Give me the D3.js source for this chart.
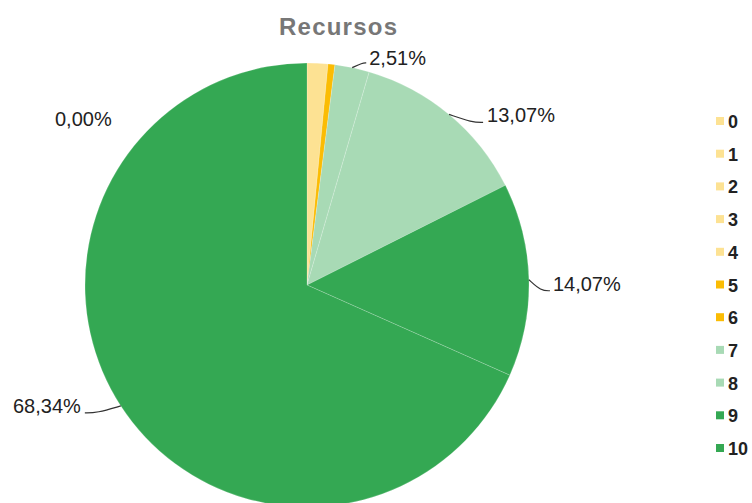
<!DOCTYPE html>
<html>
<head>
<meta charset="utf-8">
<script src="https://cdn.jsdelivr.net/npm/d3@7"></script>
<style>
  html, body { margin: 0; padding: 0; background: #fff; }
  svg { display: block; }
</style>
</head>
<body>
<svg id="chart" width="752" height="503"></svg>
<script>
// ---- data ----
const title = "Recursos";
const categories = ["0", "1", "2", "3", "4", "5", "6", "7", "8", "9", "10"];
const values = [0, 0, 0, 0, 1.51, 0.50, 0, 2.51, 13.07, 14.07, 68.34];
const colors = ["#fde293", "#fde293", "#fde293", "#fde293", "#fde293",
                "#fbbc04", "#fbbc04", "#a8dab5", "#a8dab5", "#34a853", "#34a853"];

// ---- layout ----
const W = 752, H = 503;
const cx = 307, cy = 285, R = 222;
const svg = d3.select("#chart");

const locale = d3.formatLocale({ decimal: ",", thousands: ".", grouping: [3], currency: ["", ""] });
const fmt = v => locale.format(".2f")(v) + "%";

const data = categories.map((c, i) => ({ cat: c, value: values[i], color: colors[i], idx: i }));

const pie = d3.pie().sort(null).value(d => d.value).startAngle(0).endAngle(2 * Math.PI);
const arcs = pie(data);
const arc = d3.arc().innerRadius(0).outerRadius(R);
const edge = d3.arc().innerRadius(R).outerRadius(R);

// title
svg.append("text")
  .attr("x", 338).attr("y", 35)
  .attr("text-anchor", "middle")
  .attr("font-family", "Liberation Sans, Arial, sans-serif")
  .attr("font-weight", "bold")
  .attr("font-size", 24)
  .attr("fill", "#777")
  .attr("textLength", 118)
  .attr("lengthAdjust", "spacing")
  .text(title);

const g = svg.append("g").attr("transform", `translate(${cx},${cy})`);

g.selectAll("path.slice")
  .data(arcs.filter(a => a.data.value > 0))
  .join("path")
  .attr("class", "slice")
  .attr("d", arc)
  .attr("fill", d => d.data.color)
  .attr("stroke", "#ffffff")
  .attr("stroke-width", 0.6)
  .attr("stroke-opacity", 0.3);

// labels (leader offsets relative to the slice edge point)
const leader = {
  7:  { elbow: [10, -4.7], end: [14, -4.7], text: [17, -2.7], anchor: "start" },
  8:  { elbow: [23, 8],    end: [34, 8],    text: [38, 8],    anchor: "start" },
  9:  { elbow: [12, 11],   end: [21, 11],   text: [24, 11],   anchor: "start" },
  10: { elbow: [-24, 7],   end: [-36, 7],   text: [-40, 7],   anchor: "end" }
};

const lineGen = d3.line().curve(d3.curveBasis);

arcs.forEach(a => {
  const L = leader[a.data.idx];
  if (!L) return;
  const [sx, sy] = edge.centroid(a);
  const pts = [[sx, sy], [sx + L.elbow[0], sy + L.elbow[1]], [sx + L.end[0], sy + L.end[1]]];
  g.append("path")
    .attr("d", lineGen([pts[0], pts[0], pts[1], pts[2], pts[2]]))
    .attr("fill", "none")
    .attr("stroke", "#333")
    .attr("stroke-width", 1.2);
  g.append("text")
    .attr("x", sx + L.text[0]).attr("y", sy + L.text[1])
    .attr("text-anchor", L.anchor)
    .attr("font-family", "Liberation Sans, Arial, sans-serif")
    .attr("font-size", 20)
    .attr("fill", "#222")
    .text(fmt(a.data.value));
});

// zero-value label (slices 0..3 share one)
const zero = arcs.find(a => a.data.value === 0);
svg.append("text")
  .attr("x", 55).attr("y", 126)
  .attr("font-family", "Liberation Sans, Arial, sans-serif")
  .attr("font-size", 20)
  .attr("fill", "#222")
  .text(fmt(zero.data.value));

// legend
const legY = d3.scalePoint().domain(categories).range([121, 448]);
const leg = svg.append("g");
categories.forEach((c, i) => {
  const y = legY(c);
  leg.append("rect")
    .attr("x", 716).attr("y", y - 4).attr("width", 8).attr("height", 8)
    .attr("fill", colors[i]);
  leg.append("text")
    .attr("x", 728).attr("y", y + 1)
    .attr("dominant-baseline", "central")
    .attr("font-family", "Liberation Sans, Arial, sans-serif")
    .attr("font-weight", "bold")
    .attr("font-size", 18)
    .attr("fill", "#222")
    .text(c);
});
</script>
</body>
</html>
